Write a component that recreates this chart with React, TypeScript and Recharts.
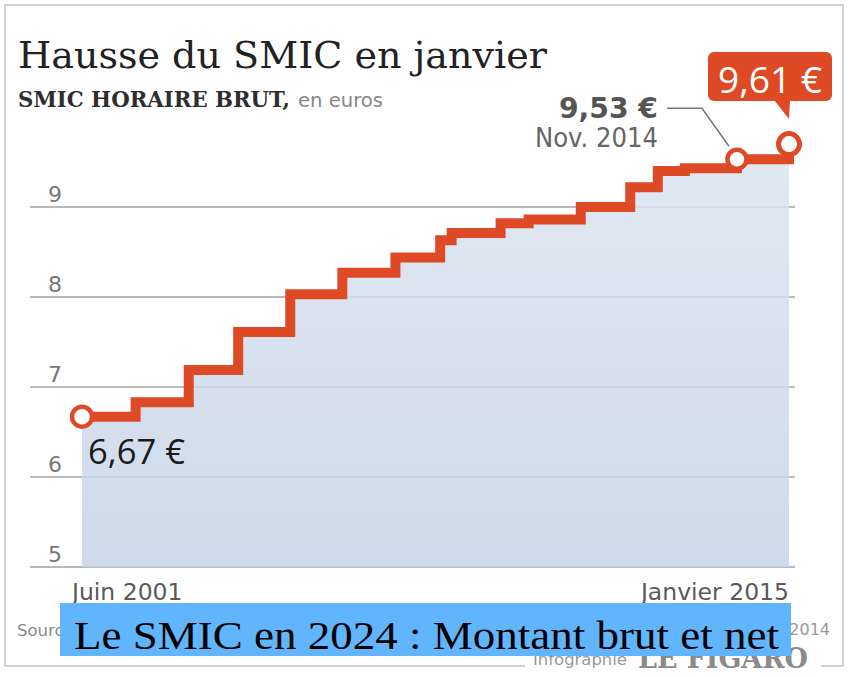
import { ComposedChart, Area, XAxis, YAxis, CartesianGrid } from "recharts";

// SMIC horaire brut (euros), date of each revaluation as decimal year
const DATES = [
  2001.42, 2002.45, 2003.47, 2004.42, 2005.42, 2006.42, 2007.44, 2008.3,
  2008.52, 2009.46, 2010.0, 2011.0, 2011.95, 2012.48, 2013.0, 2014.0, 2015.0,
];
const SMIC = [
  6.67, 6.83, 7.19, 7.61, 8.03, 8.27, 8.44, 8.63, 8.71, 8.82, 8.86, 9.0, 9.22,
  9.4, 9.43, 9.53, 9.61,
];
const Y_TICKS = [5, 6, 7, 8, 9];
const X_TICKS = [2001.42, 2015.0];
const X_LABELS = ["Juin 2001", "Janvier 2015"];
const FIRST_LABEL = "6,67 €";
const PREV_LABEL = "9,53 €";
const PREV_DATE = "Nov. 2014";
const LAST_LABEL = "9,61 €";

const data = DATES.map((t, i) => ({ t, v: SMIC[i] }));

const RED = "#df4a26";
const SANS = "'DejaVu Sans', Verdana, sans-serif";
const SERIF = "'DejaVu Serif', serif";
const OPEN = "'Open Sans', sans-serif";

const renderYTick = (p: any) => (
  <text
    x={62}
    y={p.y - 5}
    textAnchor="end"
    fontFamily={SANS}
    fontSize={22}
    fill="#777"
  >
    {p.payload.value}
  </text>
);

const renderXTick = (p: any) => {
  const first = p.index === 0;
  return (
    <text
      x={first ? p.x - 10 : p.x}
      y={p.y + 25}
      textAnchor={first ? "start" : "end"}
      fontFamily={SANS}
      fontSize={23.5}
      fill="#5a5a5a"
    >
      {X_LABELS[p.index]}
    </text>
  );
};

const renderDot = (p: any) => {
  const { cx, cy, index } = p;
  if (index === 0) {
    return (
      <g key="dot-first">
        <circle cx={cx} cy={cy} r={10} fill="#fff" stroke={RED} strokeWidth={4.5} />
        <text
          x={cx + 6}
          y={cy + 47}
          fontFamily={OPEN}
          fontSize={34}
          textLength={97}
          lengthAdjust="spacingAndGlyphs"
          fill="#1a1a1a"
        >
          {FIRST_LABEL}
        </text>
      </g>
    );
  }
  if (index === SMIC.length - 2) {
    return (
      <g key="dot-prev">
        <polyline
          points={`${cx - 70},${cy - 51} ${cx - 35},${cy - 51} ${cx - 8},${cy - 13}`}
          fill="none"
          stroke="#777"
          strokeWidth={1.5}
        />
        <circle cx={cx} cy={cy} r={9.5} fill="#fff" stroke={RED} strokeWidth={4.5} />
        <text
          x={cx - 178}
          y={cy - 41}
          fontFamily={SANS}
          fontWeight="bold"
          fontSize={29}
          textLength={99}
          lengthAdjust="spacingAndGlyphs"
          fill="#555"
        >
          {PREV_LABEL}
        </text>
        <text
          x={cx - 202}
          y={cy - 12}
          fontFamily={SANS}
          fontSize={27}
          textLength={123}
          lengthAdjust="spacingAndGlyphs"
          fill="#666"
        >
          {PREV_DATE}
        </text>
      </g>
    );
  }
  if (index === SMIC.length - 1) {
    return (
      <g key="dot-last">
        <rect x={cx - 81} y={cy - 100} width={124} height={49} rx={6} fill={RED} />
        <polygon
          points={`${cx - 15},${cy - 52} ${cx + 1},${cy - 52} ${cx},${cy - 33}`}
          fill={RED}
        />
        <circle cx={cx} cy={cy - 8} r={10.5} fill="#fff" stroke={RED} strokeWidth={5} />
        <text
          x={cx - 71}
          y={cy - 59}
          fontFamily={OPEN}
          fontSize={36}
          textLength={104}
          lengthAdjust="spacingAndGlyphs"
          fill="#fff"
        >
          {LAST_LABEL}
        </text>
      </g>
    );
  }
  return <g key={`dot-${index}`} />;
};

export default function App() {
  return (
    <div
      style={{
        position: "absolute",
        left: 0,
        top: 0,
        width: 850,
        height: 677,
        background: "#fff",
      }}
    >
      <svg
        width={850}
        height={677}
        style={{ position: "absolute", left: 0, top: 0 }}
      >
        <rect x={5} y={5} width={838} height={661} fill="#fff" stroke="#d2d2d2" strokeWidth={2} />
        <text x={18} y={68} fontFamily={SERIF} fontSize={38} textLength={529} lengthAdjust="spacingAndGlyphs" fill="#222">
          Hausse du SMIC en janvier
        </text>
        <text x={18} y={107} fontFamily={SERIF} fontWeight="bold" fontSize={23} textLength={272} lengthAdjust="spacingAndGlyphs" fill="#2e2e2e">
          SMIC HORAIRE BRUT,
        </text>
        <text x={298} y={107} fontFamily={SANS} fontSize={19} textLength={85} lengthAdjust="spacingAndGlyphs" fill="#888">
          en euros
        </text>
      </svg>

      <div style={{ position: "absolute", left: 0, top: 0 }}>
        <ComposedChart
          width={850}
          height={677}
          data={data}
          margin={{ top: 117, right: 55, bottom: 80, left: 29 }}
        >
          <defs>
            <linearGradient id="smicFill" x1="0" y1="0" x2="0" y2="1">
              <stop offset="0%" stopColor="#dbe4f0" />
              <stop offset="100%" stopColor="#c6d4e6" />
            </linearGradient>
          </defs>
          <CartesianGrid vertical={false} syncWithTicks stroke="#a3a3a3" strokeWidth={1.5} />
          <XAxis
            dataKey="t"
            type="number"
            domain={[2000.421, 2015.115]}
            ticks={X_TICKS}
            interval={0}
            height={30}
            axisLine={false}
            tickLine={false}
            tick={renderXTick}
          />
          <YAxis
            type="number"
            domain={[5, 10]}
            ticks={Y_TICKS}
            interval={0}
            width={1}
            axisLine={false}
            tickLine={false}
            tick={renderYTick}
          />
          <Area
            type="stepAfter"
            dataKey="v"
            stroke={RED}
            strokeWidth={10}
            fill="url(#smicFill)"
            fillOpacity={0.85}
            dot={renderDot}
            activeDot={false}
            isAnimationActive={false}
          />
        </ComposedChart>
      </div>

      <svg
        width={850}
        height={677}
        style={{ position: "absolute", left: 0, top: 0, pointerEvents: "none" }}
      >
        <text x={17} y={636} fontFamily={SANS} fontSize={16.5} fill="#888">
          Sources : Insee
        </text>
        <text x={830} y={635} textAnchor="end" fontFamily={SANS} fontSize={16} fill="#999">
          18/12/2014
        </text>
        <rect x={525} y={658} width={296} height={16} fill="#fff" />
        <text x={533} y={665} fontFamily={SANS} fontSize={15} textLength={94} lengthAdjust="spacingAndGlyphs" fill="#999">
          Infographie
        </text>
        <text x={638} y={668} fontFamily={SERIF} fontWeight="bold" fontSize={27} textLength={170} lengthAdjust="spacingAndGlyphs" fill="#8a8a8a">
          LE FIGARO
        </text>
        <rect x={60} y={603} width={731} height={53} fill="#60b5fd" />
        <text x={74} y={649} fontFamily="'Liberation Serif', serif" fontSize={40} textLength={705} lengthAdjust="spacingAndGlyphs" fill="#000">
          Le SMIC en 2024 : Montant brut et net
        </text>
      </svg>
    </div>
  );
}
